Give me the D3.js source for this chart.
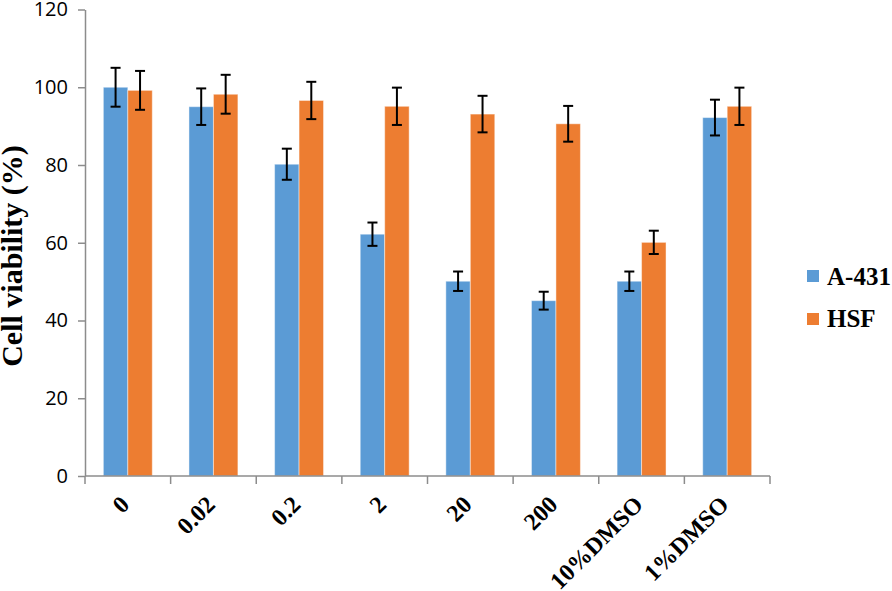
<!DOCTYPE html>
<meta charset="utf-8">
<title>Cell viability</title>
<script src="https://d3js.org/d3.v7.min.js"></script>
<style>
  body { margin: 0; background: #fff; }
</style>
<body>
<div id="chart"></div>
<script>

// data
var categories = ["0", "0.02", "0.2", "2", "20", "200", "10%DMSO", "1%DMSO"];
var seriesNames = ["A-431", "HSF"];
var a431 = [100, 95, 80.2, 62.2, 50.1, 45.1, 50.1, 92.2];
var a431Err = [5, 4.7, 4, 3, 2.5, 2.3, 2.5, 4.6];
var hsf = [99.2, 98.2, 96.6, 95.1, 93.1, 90.6, 60.1, 95.1];
var hsfErr = [5, 5, 4.8, 4.8, 4.7, 4.6, 3, 4.8];
var yTicks = [0, 20, 40, 60, 80, 100, 120];
var colors = ["#5b9bd5", "#ed7d31"];

var W = 892, H = 591;
var plotLeft = 85, plotRight = 770, plotTop = 9.5, plotBottom = 476;

var svg = d3.select("#chart").append("svg")
    .attr("width", W)
    .attr("height", H);

var y = d3.scaleLinear().domain([0, 120]).range([plotBottom, plotTop]);
var x0 = d3.scaleBand().domain(categories).range([plotLeft, plotRight]).padding(0);
var x1 = d3.scaleBand().domain(seriesNames).range([0, x0.bandwidth()])
    .paddingInner(0).paddingOuter(0.75);

// build rows for the bars
var rows = [];
categories.forEach(function (c, i) {
    rows.push({ cat: c, s: "A-431", v: a431[i], e: a431Err[i], col: colors[0] });
    rows.push({ cat: c, s: "HSF", v: hsf[i], e: hsfErr[i], col: colors[1] });
});

// bars
svg.append("g")
    .selectAll("rect")
    .data(rows)
    .enter()
    .append("rect")
    .attr("x", function (d) { return x0(d.cat) + x1(d.s); })
    .attr("y", function (d) { return y(d.v); })
    .attr("width", x1.bandwidth())
    .attr("height", function (d) { return y(0) - y(d.v); })
    .style("fill", function (d) { return d.col; })
    .style("stroke", "#ffffff")
    .style("stroke-opacity", 0.45)
    .style("stroke-width", 1);

// error bars
var eb = svg.append("g").attr("stroke", "#000").attr("stroke-width", 2);
rows.forEach(function (d) {
    var cx = x0(d.cat) + x1(d.s) + x1.bandwidth() / 2;
    var y1 = y(d.v + d.e), y2 = y(d.v - d.e);
    eb.append("line").attr("x1", cx).attr("x2", cx).attr("y1", y1).attr("y2", y2);
    eb.append("line").attr("x1", cx - 5).attr("x2", cx + 5).attr("y1", y1).attr("y2", y1);
    eb.append("line").attr("x1", cx - 5).attr("x2", cx + 5).attr("y1", y2).attr("y2", y2);
});

// y axis
var yAxis = svg.append("g")
    .attr("transform", "translate(" + plotLeft + ",0)")
    .call(d3.axisLeft(y).tickValues(yTicks).tickSize(7).tickSizeOuter(0).tickPadding(10));
yAxis.select(".domain").attr("stroke", "#8c8c8c").attr("stroke-width", 1.5);
yAxis.selectAll(".tick line").attr("stroke", "#8c8c8c").attr("stroke-width", 1.5);
yAxis.selectAll(".tick text")
    .style("font-family", "'Open Sans', sans-serif")
    .style("font-size", "20px")
    .attr("fill", "#000");

// x axis line with ticks at category boundaries
var xa = svg.append("g").attr("stroke", "#8c8c8c").attr("stroke-width", 1.5);
xa.append("line").attr("x1", plotLeft).attr("x2", plotRight).attr("y1", plotBottom).attr("y2", plotBottom);
var bounds = categories.map(function (c) { return x0(c); }).concat([x0.range()[1]]);
xa.selectAll("line.t")
    .data(bounds)
    .enter()
    .append("line")
    .attr("class", "t")
    .attr("x1", function (d) { return d; })
    .attr("x2", function (d) { return d; })
    .attr("y1", plotBottom)
    .attr("y2", plotBottom + 8);

// x labels, rotated
svg.append("g")
    .selectAll("text")
    .data(categories)
    .enter()
    .append("text")
    .attr("transform", function (d) {
        return "translate(" + (x0(d) + x0.bandwidth() / 2 + 3) + "," + 506 + ") rotate(-45)";
    })
    .attr("text-anchor", "end")
    .style("font-family", "'Liberation Serif', 'Times New Roman', serif")
    .style("font-weight", "bold")
    .style("font-size", "24px")
    .text(function (d) { return d; });

// y title
svg.append("text")
    .attr("transform", "translate(22,256) rotate(-90)")
    .attr("text-anchor", "middle")
    .style("font-family", "'Liberation Serif', 'Times New Roman', serif")
    .style("font-weight", "bold")
    .style("font-size", "30px")
    .text("Cell viability (%)");

// legend
var legend = svg.append("g");
var legY = [270, 313];
var legBase = [285, 327];
seriesNames.forEach(function (s, i) {
    legend.append("rect")
        .attr("x", 807).attr("y", legY[i])
        .attr("width", 12).attr("height", 12)
        .style("fill", colors[i]);
    legend.append("text")
        .attr("x", 827).attr("y", legBase[i])
        .style("font-family", "'Liberation Serif', 'Times New Roman', serif")
        .style("font-weight", "bold")
        .style("font-size", "25px")
        .text(s);
});

</script>
</body>
